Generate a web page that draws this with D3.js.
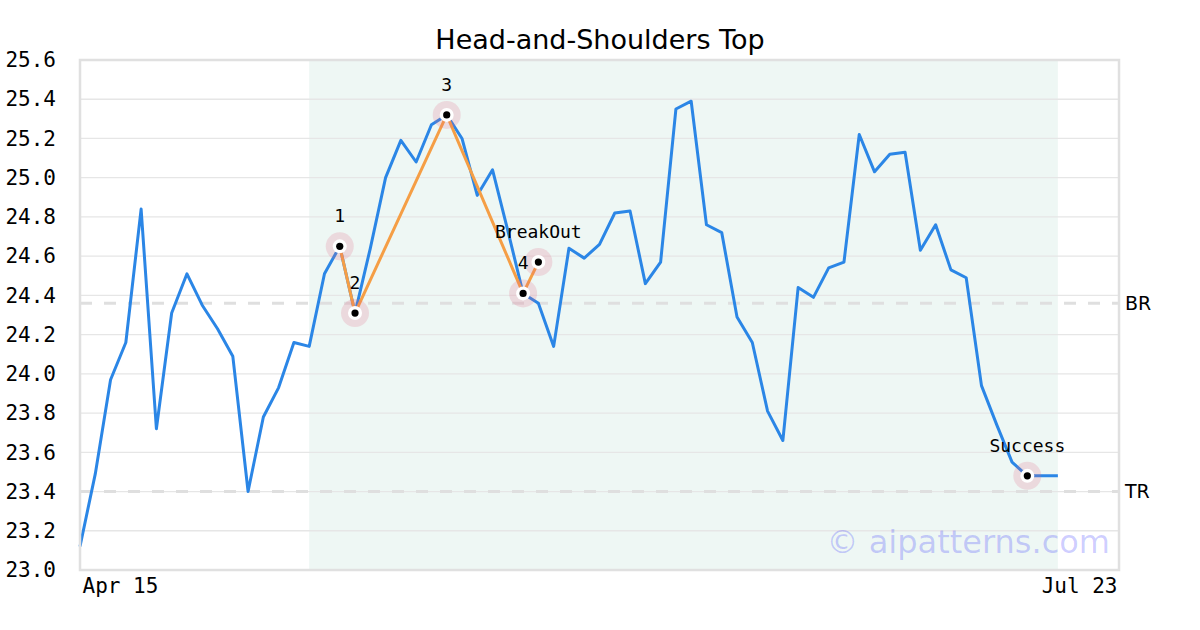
<!DOCTYPE html>
<html>
<head>
<meta charset="utf-8">
<script src="https://cdn.jsdelivr.net/npm/d3@7"></script>
<style>
  html, body { margin: 0; padding: 0; background: #fff; }
  svg { display: block; }
</style>
</head>
<body>
<svg id="chart" width="1200" height="630"></svg>
<script>
// ---- data ----
const titleText = "Head-and-Shoulders Top";
const prices = [
  23.12, 23.49, 23.97, 24.16, 24.84, 23.72, 24.31, 24.51, 24.35, 24.23,
  24.09, 23.40, 23.78, 23.93, 24.16, 24.14, 24.51, 24.65, 24.31, 24.64,
  25.00, 25.19, 25.08, 25.27, 25.32, 25.20, 24.91, 25.04, 24.73, 24.41,
  24.36, 24.14, 24.64, 24.59, 24.66, 24.82, 24.83, 24.46, 24.57, 25.35,
  25.39, 24.76, 24.72, 24.29, 24.16, 23.81, 23.66, 24.44, 24.39, 24.54,
  24.57, 25.22, 25.03, 25.12, 25.13, 24.63, 24.76, 24.53, 24.49, 23.94,
  23.74, 23.55, 23.48, 23.48, 23.48
];
const xDomainEnd = 68;               // axis extends a few sessions past the data
const xTickIndex = [0, 68];
const xTickLabels = ["Apr 15", "Jul 23"];
const yTicks = [23.0, 23.2, 23.4, 23.6, 23.8, 24.0, 24.2, 24.4, 24.6, 24.8, 25.0, 25.2, 25.4, 25.6];
const patternIdx = [17, 18, 24, 29, 30];
const patternVal = [24.65, 24.31, 25.32, 24.41, 24.57];
const patternLbl = ["1", "2", "3", "4", "BreakOut"];
const successIdx = [62];
const successVal = [23.48];
const successLbl = ["Success"];
const shadeRange = [15, 64];
const levelNames = ["BR", "TR"];
const levelValues = [24.36, 23.40];
const watermark = "© aipatterns.com";

// ---- layout ----
const svg = d3.select("#chart");
const M = { left: 80, right: 1119, top: 60, bottom: 570 };
const x = d3.scaleLinear().domain([0, xDomainEnd]).range([M.left, M.right]);
const y = d3.scaleLinear().domain([23.0, 25.6]).range([M.bottom, M.top]);

// shaded pattern region
svg.append("rect")
  .attr("x", x(shadeRange[0])).attr("y", M.top)
  .attr("width", x(shadeRange[1]) - x(shadeRange[0]))
  .attr("height", M.bottom - M.top)
  .attr("fill", "#eef7f4");

// grid
svg.append("g").selectAll("line").data(yTicks).join("line")
  .attr("x1", M.left).attr("x2", M.right)
  .attr("y1", d => y(d)).attr("y2", d => y(d))
  .attr("stroke", "#e6e6e6").attr("stroke-width", 1.3);

// level dashed lines
svg.append("g").selectAll("line").data(levelValues).join("line")
  .attr("x1", M.left).attr("x2", M.right)
  .attr("y1", d => y(d)).attr("y2", d => y(d))
  .attr("stroke", "#dfdfdf").attr("stroke-width", 3)
  .attr("stroke-dasharray", "12,12");

svg.append("g").selectAll("text").data(levelValues).join("text")
  .attr("x", M.right + 6).attr("y", d => y(d))
  .attr("dy", "0.36em")
  .attr("font-family", "DejaVu Sans").attr("font-size", 19)
  .attr("fill", "#000")
  .text((d, i) => levelNames[i]);

// watermark
svg.append("text")
  .attr("x", 1110).attr("y", 553)
  .attr("text-anchor", "end")
  .attr("font-family", "DejaVu Sans").attr("font-size", 32)
  .attr("fill", "rgb(0,0,255)").attr("fill-opacity", 0.2)
  .text(watermark);

// price line
const line = d3.line().x((d, i) => x(i)).y(d => y(d));
svg.append("path").datum(prices)
  .attr("d", line).attr("fill", "none")
  .attr("stroke", "#2b86e6").attr("stroke-width", 3)
  .attr("stroke-linejoin", "round");

// pattern line
const pat = patternIdx.map((d, i) => ({ i: d, v: patternVal[i], l: patternLbl[i] }));
const suc = successIdx.map((d, i) => ({ i: d, v: successVal[i], l: successLbl[i] }));
svg.append("path").datum(pat)
  .attr("d", d3.line().x(d => x(d.i)).y(d => y(d.v)))
  .attr("fill", "none").attr("stroke", "#f59e45").attr("stroke-width", 3);

const marks = pat.concat(suc);
const mg = svg.append("g");
mg.selectAll("circle.halo").data(marks).join("circle").attr("class", "halo")
  .attr("cx", d => x(d.i)).attr("cy", d => y(d.v)).attr("r", 14)
  .attr("fill", "rgb(225,100,132)").attr("fill-opacity", 0.2);
mg.selectAll("circle.ring").data(marks).join("circle").attr("class", "ring")
  .attr("cx", d => x(d.i)).attr("cy", d => y(d.v)).attr("r", 7)
  .attr("fill", "#fff");
mg.selectAll("circle.dot").data(marks).join("circle").attr("class", "dot")
  .attr("cx", d => x(d.i)).attr("cy", d => y(d.v)).attr("r", 3.6)
  .attr("fill", "#000");
mg.selectAll("text").data(marks).join("text")
  .attr("x", d => x(d.i)).attr("y", d => y(d.v) - 24)
  .attr("text-anchor", "middle")
  .attr("font-family", "DejaVu Sans Mono").attr("font-size", 18)
  .attr("fill", "#000")
  .text(d => d.l);

// frame
svg.append("rect")
  .attr("x", M.left).attr("y", M.top)
  .attr("width", M.right - M.left).attr("height", M.bottom - M.top)
  .attr("fill", "none").attr("stroke", "#e0e0e0").attr("stroke-width", 2.5);

// y axis
const yAxis = d3.axisLeft(y).tickValues(yTicks).tickFormat(d3.format(".1f"))
  .tickSize(0).tickPadding(24);
const ya = svg.append("g").attr("transform", `translate(${M.left},0)`).call(yAxis);
ya.select(".domain").remove();
ya.selectAll("text").attr("font-family", "DejaVu Sans Mono").attr("font-size", 21).attr("fill", "#000");

// x axis
const xAxis = d3.axisBottom(x).tickValues(xTickIndex)
  .tickFormat((d, i) => xTickLabels[i]).tickSize(0).tickPadding(8);
const xa = svg.append("g").attr("transform", `translate(0,${M.bottom})`).call(xAxis);
xa.select(".domain").remove();
xa.selectAll("text")
  .attr("font-family", "DejaVu Sans Mono").attr("font-size", 21).attr("fill", "#000")
  .attr("text-anchor", (d, i) => i === 0 ? "start" : "end")
  .attr("dx", (d, i) => i === 0 ? 2 : -2);

// title
svg.append("text")
  .attr("x", 600).attr("y", 49)
  .attr("text-anchor", "middle")
  .attr("font-family", "DejaVu Sans").attr("font-size", 27)
  .attr("fill", "#000")
  .text(titleText);
</script>
</body>
</html>
